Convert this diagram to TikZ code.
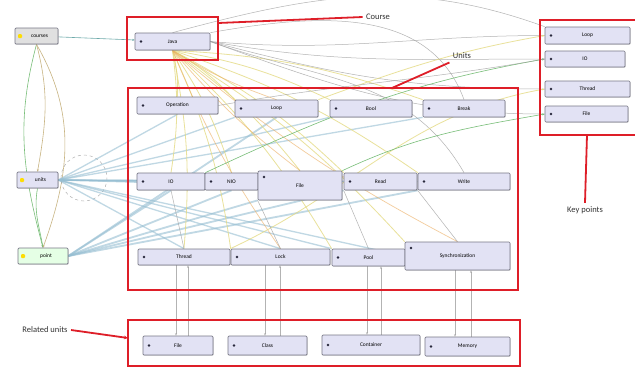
\documentclass[tikz,border=0pt]{standalone}
\usepackage{fontspec}
\setmainfont{Carlito}
\usetikzlibrary{arrows.meta,shadows}
\pgfdeclarelayer{bgpaper}
\pgfdeclarelayer{edges}
\pgfsetlayers{bgpaper,edges,main}
\definecolor{lav}{RGB}{226,226,244}
\definecolor{nodeborder}{RGB}{120,120,135}
\definecolor{dotc}{RGB}{40,40,60}
\definecolor{redc}{RGB}{222,30,40}
\definecolor{bluec}{RGB}{150,190,210}
\definecolor{yelc}{RGB}{228,218,130}
\definecolor{orc}{RGB}{235,170,90}
\definecolor{grayc}{RGB}{160,160,160}
\definecolor{greenc}{RGB}{120,190,120}
\definecolor{tanc}{RGB}{200,180,130}
\definecolor{tealc}{RGB}{110,170,170}
\begin{document}
\begin{tikzpicture}[x=1pt,y=-1pt,
  nshadow/.style={drop shadow={shadow xshift=0.7pt, shadow yshift=-0.7pt, opacity=0.35, fill=black!60}},
  unit/.style={draw=nodeborder, fill=lav, rounded corners=1pt, line width=0.7pt, inner sep=0pt, nshadow,
    font=\fontsize{5.5}{6.5}\selectfont,
    path picture={\fill[dotc] ([xshift=6pt]path picture bounding box.west) circle (1.3pt);}},
  unittop/.style={draw=nodeborder, fill=lav, rounded corners=1pt, line width=0.7pt, inner sep=0pt, nshadow,
    font=\fontsize{5.5}{6.5}\selectfont,
    path picture={\fill[dotc] ([xshift=6pt,yshift=-6pt]path picture bounding box.north west) circle (1.3pt);}},
  leftnode/.style={draw=nodeborder, rounded corners=1pt, line width=0.7pt, inner sep=0pt, nshadow,
    font=\fontsize{5.5}{6.5}\selectfont,
    path picture={\fill[yellow!80!orange] ([xshift=5pt]path picture bounding box.west) ++(-2pt,-2pt) rectangle ++(4pt,4pt);}},
  redbox/.style={draw=redc, line width=2.2pt},
  redline/.style={draw=redc, line width=1.8pt},
  callout/.style={font=\fontsize{8.5}{10}\selectfont, text=black!80},
  bl/.style={draw=bluec, line width=1.3pt, opacity=0.6},
  yl/.style={draw=yelc, line width=0.8pt, opacity=0.8},
  ol/.style={draw=orc, line width=0.7pt, opacity=0.6},
  gl/.style={draw=grayc, line width=0.5pt, opacity=0.8},
  gr/.style={draw=greenc, line width=0.6pt},
  tn/.style={draw=tanc, line width=0.6pt},
  tip/.style={-{Stealth[length=2.5pt,width=2pt]}}
]
\begin{pgfonlayer}{bgpaper}
\fill[white] (0,0) rectangle (635,368);
\end{pgfonlayer}
\useasboundingbox (0,0) rectangle (635,368);

% ---------- left nodes ----------
\node[leftnode, fill=black!12, minimum width=43, minimum height=16] (courses) at (36.5,36) {\hspace*{6pt}courses};
\node[leftnode, fill=lav, minimum width=41, minimum height=16] (units) at (37.5,180) {\hspace*{6pt}units};
\node[leftnode, fill=green!10, minimum width=50, minimum height=16] (point) at (43,256) {\hspace*{6pt}point};

% ---------- course ----------
\node[unit, minimum width=75, minimum height=17] (java) at (172.5,41.5) {Java};

% ---------- units ----------
\node[unit, minimum width=81, minimum height=17] (op) at (177.5,105.5) {Operation};
\node[unit, minimum width=83, minimum height=17] (loop) at (276.5,108.5) {Loop};
\node[unit, minimum width=82, minimum height=17] (bool) at (371,108.5) {Bool};
\node[unit, minimum width=82, minimum height=17] (brk) at (464,108.5) {Break};
\node[unit, minimum width=68, minimum height=17] (io) at (171,181.5) {IO};
\node[unit, minimum width=53, minimum height=17] (nio) at (231.5,181.5) {NIO};
\node[unittop, minimum width=84, minimum height=29] (file) at (300,185.5) {File};
\node[unit, minimum width=73, minimum height=17] (read) at (380.5,181.5) {Read};
\node[unit, minimum width=92, minimum height=17] (write) at (464,181.5) {Write};
\node[unit, minimum width=92, minimum height=16] (thread) at (184,257) {Thread};
\node[unit, minimum width=99, minimum height=16] (lock) at (280.5,257) {Lock};
\node[unit, minimum width=73, minimum height=17] (pool) at (368.5,257.5) {Pool};
\node[unittop, minimum width=105, minimum height=28] (sync) at (457.5,256) {Synchronization};

% ---------- key points ----------
\node[unit, minimum width=85, minimum height=17] (kloop) at (587.5,35.5) {Loop};
\node[unit, minimum width=80, minimum height=16] (kio) at (585,59) {IO};
\node[unit, minimum width=85, minimum height=16] (kthread) at (587.5,89) {Thread};
\node[unit, minimum width=83, minimum height=16] (kfile) at (586.5,114) {File};

% ---------- related units ----------
\node[unit, minimum width=70, minimum height=19] (rfile) at (178,345.5) {File};
\node[unit, minimum width=79, minimum height=19] (rclass) at (267.5,345.5) {Class};
\node[unit, minimum width=98, minimum height=20] (rcont) at (371,345) {Container};
\node[unit, minimum width=85, minimum height=19] (rmem) at (467.5,346.5) {Memory};

% ---------- connectors ----------
\begin{pgfonlayer}{edges}
\draw[draw=tealc, line width=0.6pt, tip] (courses) -- (java);
\draw[gr, tip] (courses.south) to[out=-105, in=105] (point.north);
\draw[tn, tip] (courses.south) to[out=-75, in=80] (units.north);
\draw[gr, tip] (units.south) to[out=-100, in=100] (point.north);
\draw[tn, tip] (courses.south) to[out=-60, in=70] (point.north);
\draw[gl, dashed] (84,178) circle (23);
\foreach \t in {op.south, loop.south west, bool.south west, brk.south west, io.west, nio.west, file.west, read.west, write.west, thread.north, lock.north, pool.north west, sync.west}
  \draw[bl] (units.east) -- (\t);
\foreach \t in {io.south, nio.south, file.south west, read.south west, write.south west, loop.south}
  \draw[bl, line width=1.8pt] (point.east) -- (\t);
\foreach \t in {op.north, loop.north west, bool.north west, brk.north west, io.north, nio.north, file.north, read.north west, write.north west, thread.north, lock.north west, pool.north west, sync.north west}
  \draw[yl] (java.south) to[bend left=8] (\t);
\foreach \t in {loop.north, file.north, lock.north, sync.north}
  \draw[ol] (java.south) to[bend right=6] (\t);
\draw[gl] (java.east) to[out=-5, in=180] (kloop.west);
\draw[gl] (java.east) to[out=-10, in=180] (kio.west);
\draw[gl] (java.east) to[out=-15, in=180] (kthread.west);
\draw[gl] (java.east) to[out=-20, in=180] (kfile.west);
\draw[gl] (java.north east) to[out=10, in=110] (brk.north);
\draw[gl] (java.east) to[out=-20, in=120] (write.north);
\draw[gl] (java.north) to[out=15, in=160] (kloop.north west);
\draw[yl, tip] (loop.north east) to[out=20, in=190] (kloop.west);
\draw[gr, tip] (io.north east) to[out=25, in=190] (kio.west);
\draw[yl, tip] (thread.north east) to[out=25, in=190] (kthread.west);
\draw[gr, tip] (file.north east) to[out=25, in=190] (kfile.west);
\draw[gl, tip] (op.east) to[out=10, in=190] (kio.west);
\draw[gl] (file.south west) -- (lock.north);
\draw[gl] (read.south west) -- (pool.north);
\draw[gl] (write.south west) -- (sync.north);
\draw[gl] (io.south) -- (thread.north);
\draw[gl, tip] (thread.south -| 176,0) -- (rfile.north -| 176,0);
\draw[gl, tip] (rfile.north -| 188,0) -- (thread.south -| 188,0);
\draw[gl, tip] (lock.south -| 265,0) -- (rclass.north -| 265,0);
\draw[gl, tip] (rclass.north -| 280,0) -- (lock.south -| 280,0);
\draw[gl, tip] (pool.south -| 367,0) -- (rcont.north -| 367,0);
\draw[gl, tip] (rcont.north -| 381,0) -- (pool.south -| 381,0);
\draw[gl, tip] (sync.south -| 455,0) -- (rmem.north -| 455,0);
\draw[gl, tip] (rmem.north -| 471,0) -- (sync.south -| 471,0);
\end{pgfonlayer}

% ---------- red boxes and callouts ----------
\draw[redbox] (127,17) rectangle (218,60);
\draw[redbox] (128,88) rectangle (518,290);
\draw[redbox] (540,20) rectangle (637,135);
\draw[redbox] (128,320) rectangle (520,366);

\node[callout] (lcourse) at (378,17) {Course};
\node[callout] (lunits) at (462,56) {Units};
\node[callout] (lkey) at (585,210) {Key points};
\node[callout] (lrel) at (45,330) {Related units};

\coordinate (c1) at (218,23);
\coordinate (c2) at (392,88);
\coordinate (c3) at (587,135);
\draw[redline] (c1) -- (lcourse.west);
\draw[redline] (c2) -- (lunits.south west);
\draw[redline] (c3) -- (lkey.north);
\draw[redline, -{Stealth[length=4pt,width=3.5pt]}] (lrel.east) -- (128,338);
\end{tikzpicture}
\end{document}
